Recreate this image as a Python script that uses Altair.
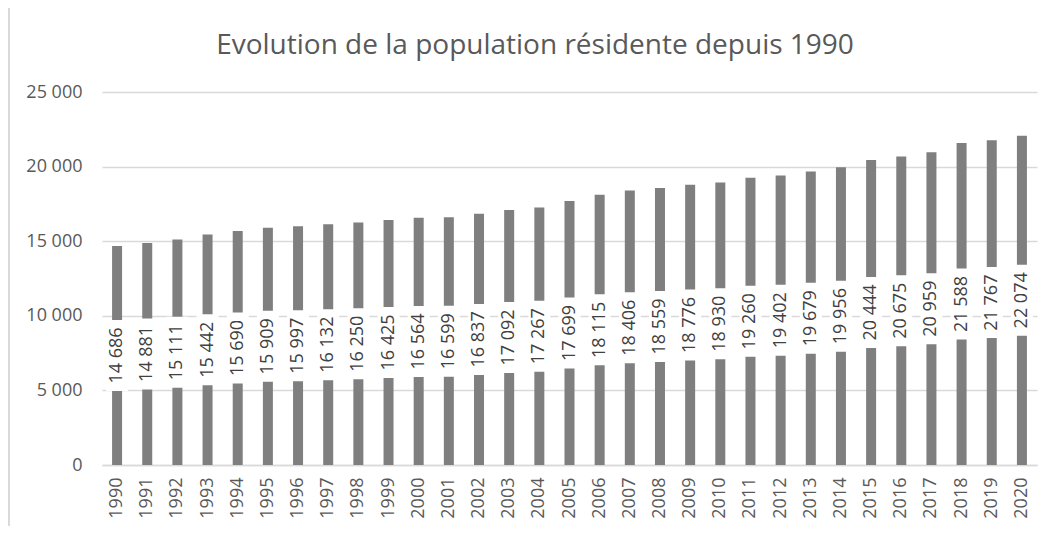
import altair as alt
import pandas as pd

years = [str(y) for y in range(1990, 2021)]
population = [14686, 14881, 15111, 15442, 15690, 15909, 15997, 16132, 16250, 16425,
              16564, 16599, 16837, 17092, 17267, 17699, 18115, 18406, 18559, 18776,
              18930, 19260, 19402, 19679, 19956, 20444, 20675, 20959, 21588, 21767, 22074]
y_ticks = [0, 5000, 10000, 15000, 20000, 25000]
title_text = "Evolution de la population résidente depuis 1990"

df = pd.DataFrame({"year": years, "pop": population})

FONT = "Open Sans"
W, H = 935, 373

x_enc = alt.X("year:N", title=None,
              scale=alt.Scale(paddingInner=0.67, paddingOuter=0.335),
              axis=alt.Axis(labelAngle=270, labelFontSize=18, labelColor="#595959",
                            labelFont=FONT, ticks=False, domain=True, domainColor="#d9d9d9",
                            domainWidth=1.5, labelPadding=12))
y_scale = alt.Scale(domain=[0, 25000])

bars = alt.Chart(df).mark_bar(color="#7f7f7f", size=10).encode(
    x=x_enc,
    y=alt.Y("pop:Q", title=None, scale=y_scale,
            axis=alt.Axis(values=y_ticks, grid=True, gridColor="#d9d9d9", gridWidth=1.5,
                          domain=False, ticks=False, labelFontSize=18, labelColor="#595959",
                          labelFont=FONT, labelPadding=20,
                          labelExpr="replace(format(datum.value, ','), ',', ' ')")),
)

base = alt.Chart(df).transform_calculate(
    mid="datum.pop / 2",
    lbl="replace(format(datum.pop, ','), ',', ' ')",
)

boxes = base.mark_point(
    shape="M-0.31,-1L0.31,-1L0.31,1L-0.31,1Z", filled=True, fill="white",
    opacity=1, strokeWidth=0, size=71 * 71,
).encode(x="year:N", y=alt.Y("mid:Q", scale=y_scale))

labels = base.mark_text(angle=270, fontSize=18, color="#404040", font=FONT,
                        align="center", baseline="middle").encode(
    x="year:N", y=alt.Y("mid:Q", scale=y_scale), text="lbl:N")

border = alt.Chart(df).mark_rect(fill=None, stroke="#d9d9d9", strokeWidth=1).encode(
    x=alt.value(-93), x2=alt.value(947), y=alt.value(-86), y2=alt.value(436))

title = alt.Chart(pd.DataFrame({"t": [title_text]})).mark_text(
    fontSize=28, font=FONT, color="#595959", align="center", baseline="middle",
).encode(x=alt.value(433), y=alt.value(-46), text="t:N")

chart = alt.layer(bars, boxes, labels, border, title).properties(
    width=W, height=H,
    autosize=alt.AutoSizeParams(type="none"),
    padding={"left": 94, "top": 84, "right": 11, "bottom": 61},
).configure_view(stroke=None)

chart.save("out.html", embed_options={"renderer": "svg", "actions": False})
